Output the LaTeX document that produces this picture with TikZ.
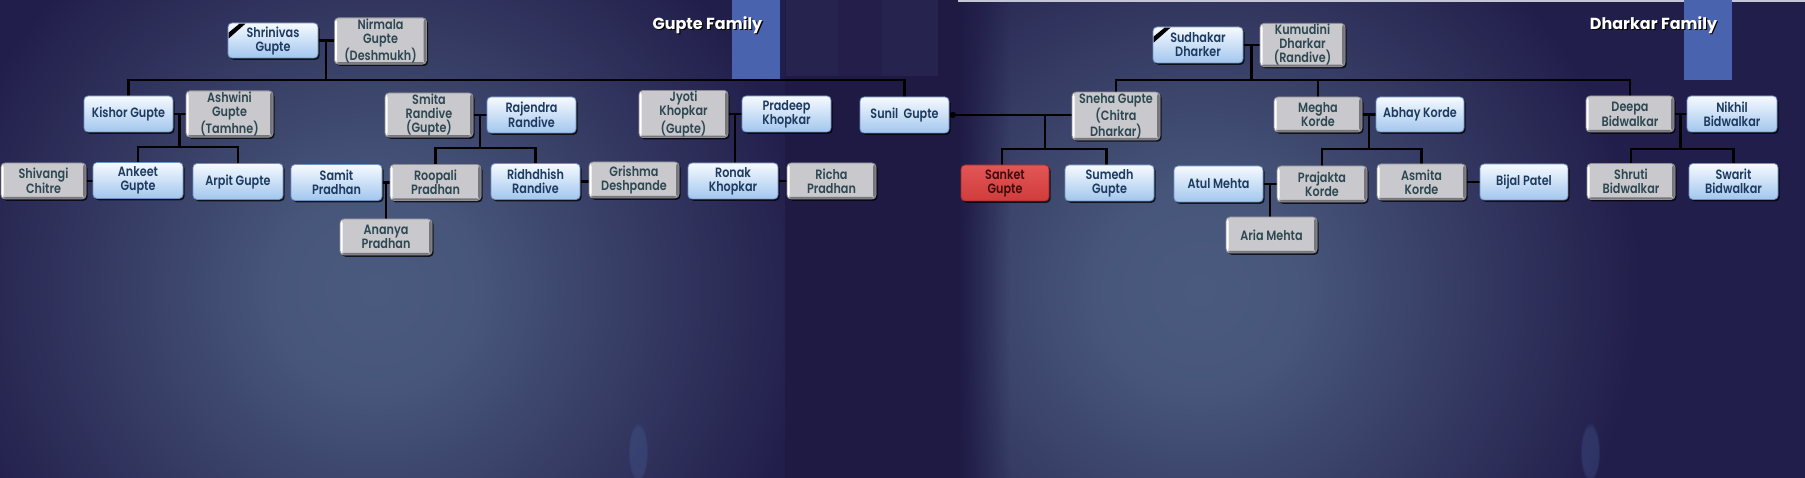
\documentclass[tikz,border=0pt]{standalone}
\usepackage{fontspec}
\newfontfamily\boxfont{Poppins SemiBold}[FakeStretch=0.83]
\newfontfamily\titlefont{Poppins Bold}
\usetikzlibrary{shadows,fadings,arrows.meta,calc}
\definecolor{basec}{HTML}{221E4B}
\definecolor{glowc}{HTML}{4A5A7E}
\definecolor{gapc}{HTML}{1E1A44}
\definecolor{bandc}{HTML}{26234E}
\definecolor{bandd}{HTML}{231F4A}
\definecolor{titleblue}{HTML}{4A63AE}
\definecolor{topline}{HTML}{C5C6D6}
\definecolor{bokehc}{HTML}{4A64A0}
\definecolor{bluetop}{HTML}{F6FAFF}
\definecolor{bluebot}{HTML}{A2C6EE}
\definecolor{blueedge}{HTML}{7090C0}
\definecolor{bluetext}{HTML}{1D3A5F}
\definecolor{greyfill}{HTML}{C9C9CD}
\definecolor{greyedge}{HTML}{8E8E94}
\definecolor{greydark}{HTML}{76767C}
\definecolor{greytext}{HTML}{2E4852}
\definecolor{redtop}{HTML}{E35656}
\definecolor{redbot}{HTML}{D03C3C}
\definecolor{rededge}{HTML}{A02828}
\definecolor{redtext}{HTML}{3D0D0D}
\pgfdeclareradialshading{glow}{\pgfpoint{0bp}{0bp}}{color(0bp)=(glowc); color(6bp)=(glowc!92!basec); color(25bp)=(basec); color(50bp)=(basec)}
\tikzfading[name=fadeR, left color=transparent!0, right color=transparent!100]
\pgfdeclarelayer{back}
\pgfdeclarelayer{lines}
\pgfsetlayers{back,lines,main}
\tikzset{
  box/.style={minimum width=89pt, minimum height=36pt, inner sep=1pt,
    rounded corners=4pt, align=center,
    font=\boxfont\fontsize{13.5}{14}\selectfont,
    drop shadow={shadow xshift=1.6pt, shadow yshift=-1.8pt, opacity=0.75, fill=black}},
  bluebox/.style={box, top color=bluetop, bottom color=bluebot, draw=blueedge, line width=0.8pt, text=bluetext},
  greybox/.style={box, fill=greyfill, draw=greyedge, line width=0.8pt, text=greytext,
    path picture={
      \fill[white] (path picture bounding box.north west) rectangle ([xshift=2.5pt]path picture bounding box.south west);
      \fill[greydark] ([xshift=-3pt]path picture bounding box.north east) rectangle (path picture bounding box.south east);
      \fill[greydark] ([yshift=2pt]path picture bounding box.south west) rectangle (path picture bounding box.south east);
    }},
  redbox/.style={box, top color=redtop, bottom color=redbot, draw=rededge, line width=0.8pt, text=redtext},
  conn/.style={draw=black, line width=2.4pt},
  titletext/.style={font=\titlefont\fontsize{16}{18}\selectfont, anchor=base, inner sep=0pt},
  ribbon/.style={fill=black}
}
\begin{document}
\begin{tikzpicture}[x=1pt,y=-1pt]
\useasboundingbox (0,0) rectangle (1805,478);
\begin{pgfonlayer}{back}
  \fill[gapc] (0,0) rectangle (1805,478);
  % left slide
  \begin{scope}
    \clip (0,0) rectangle (785,478);
    \fill[basec] (0,0) rectangle (785,478);
    \shade[shading=glow] (375,290) ellipse (440 and 430);
    \fill[bokehc, opacity=0.3, path fading=circle with fuzzy edge 20 percent] (638,452) ellipse (10 and 30);
  \end{scope}
  % gap bands
  \fill[bandc] (786,0) rectangle (838,76);
  \fill[bandd] (838,0) rectangle (882,76);
  \fill[bandc] (882,0) rectangle (938,76);
  % right slide
  \begin{scope}
    \clip (958,0) rectangle (1805,478);
    \fill[basec] (958,0) rectangle (1805,478);
    \shade[shading=glow] (1200,290) ellipse (440 and 430);
    \fill[gapc, path fading=fadeR] (958,0) rectangle (1010,478);
    \fill[bokehc, opacity=0.3, path fading=circle with fuzzy edge 20 percent] (1590,452) ellipse (10 and 30);
  \end{scope}
  \fill[topline] (958,0) rectangle (1805,2);
  \fill[titleblue] (732,0) rectangle (780,79);
  \fill[titleblue] (1684,0) rectangle (1732,80);
\end{pgfonlayer}

% titles
\node[titletext, text=black] (gtitleshadow) at (708.7,30.7) {Gupte Family};
\node[titletext, text=white] (gtitle) at (707.5,29.5) {Gupte Family};
\node[titletext, text=black] (dtitleshadow) at (1654.7,30.7) {Dharkar Family};
\node[titletext, text=white] (dtitle) at (1653.5,29.5) {Dharkar Family};

% ---------- Gupte family ----------
\node[bluebox, minimum width=90pt, minimum height=35pt] (shrinivas) at (273,40.5) {Shrinivas\\Gupte};
\node[greybox, minimum width=92pt, minimum height=37pt] (nirmala) at (380.5,41) {Nirmala\\Gupte\\(Deshmukh)};
\node[bluebox] (kishor) at (128.5,114) {Kishor Gupte};
\node[greybox, minimum width=87pt] (ashwini) at (229.5,114) {Ashwini\\Gupte\\(Tamhne)};
\node[greybox, minimum width=85pt] (shivangi) at (43.5,181) {Shivangi\\Chitre};
\node[bluebox, minimum width=90pt] (ankeet) at (138,180.5) {Ankeet\\Gupte};
\node[bluebox, minimum width=90pt] (arpit) at (238,181.5) {Arpit Gupte};
\node[bluebox, minimum width=91pt] (samit) at (336.5,182.5) {Samit\\Pradhan};
\node[greybox, minimum width=91pt] (roopali) at (435.5,182.5) {Roopali\\Pradhan};
\node[greybox, minimum width=92pt] (ananya) at (386,237) {Ananya\\Pradhan};
\node[greybox, minimum width=88pt] (smita) at (429,115) {Smita\\Randive\\(Gupte)};
\node[bluebox] (rajendra) at (531.5,115) {Rajendra\\Randive};
\node[bluebox] (ridhdhish) at (535.5,181.5) {Ridhdhish\\Randive};
\node[greybox, minimum width=90pt] (grishma) at (634,180) {Grishma\\Deshpande};
\node[greybox] (jyoti) at (683.5,114) {Jyoti\\Khopkar\\(Gupte)};
\node[bluebox] (pradeep) at (786.5,114) {Pradeep\\Khopkar};
\node[bluebox, minimum width=90pt] (ronak) at (733,181) {Ronak\\Khopkar};
\node[greybox] (richa) at (831.5,181) {Richa\\Pradhan};
\node[bluebox] (sunil) at (904.5,115) {Sunil~ Gupte};

% ---------- Dharkar family ----------
\node[greybox, minimum width=88pt] (sneha) at (1116,116) {Sneha Gupte\\(Chitra\\Dharkar)};
\node[redbox, minimum width=88pt] (sanket) at (1005,183) {Sanket\\Gupte};
\node[bluebox] (sumedh) at (1109.5,183) {Sumedh\\Gupte};
\node[bluebox, minimum width=90pt] (sudhakar) at (1198,45) {Sudhakar\\Dharker};
\node[greybox, minimum width=85pt] (kumudini) at (1302.5,45) {Kumudini\\Dharkar\\(Randive)};
\node[greybox, minimum width=88pt, minimum height=35pt] (megha) at (1318,114.5) {Megha\\Korde};
\node[bluebox, minimum width=88pt, minimum height=35pt] (abhay) at (1420,114.5) {Abhay Korde};
\node[bluebox] (atul) at (1218.5,184) {Atul Mehta};
\node[greybox, minimum width=90pt] (prajakta) at (1322,184) {Prajakta\\Korde};
\node[greybox, minimum width=91pt] (aria) at (1271.5,235) {Aria Mehta};
\node[greybox] (asmita) at (1421.5,182) {Asmita\\Korde};
\node[bluebox, minimum width=88pt] (bijal) at (1524,182) {Bijal Patel};
\node[greybox, minimum width=88pt] (deepa) at (1630,114) {Deepa\\Bidwalkar};
\node[bluebox, minimum width=90pt] (nikhil) at (1732,114) {Nikhil\\Bidwalkar};
\node[greybox, minimum width=88pt] (shruti) at (1631,181.5) {Shruti\\Bidwalkar};
\node[bluebox] (swarit) at (1733.5,181.5) {Swarit\\Bidwalkar};

% mourning ribbons
\fill[ribbon] ([shift={(1pt,-10pt)}]shrinivas.north west) -- ([shift={(12pt,-1pt)}]shrinivas.north west) -- ([shift={(18pt,-1pt)}]shrinivas.north west) -- ([shift={(1pt,-16pt)}]shrinivas.north west) -- cycle;
\fill[ribbon] ([shift={(1pt,-10pt)}]sudhakar.north west) -- ([shift={(12pt,-1pt)}]sudhakar.north west) -- ([shift={(18pt,-1pt)}]sudhakar.north west) -- ([shift={(1pt,-16pt)}]sudhakar.north west) -- cycle;

% ---------- connectors ----------
\begin{pgfonlayer}{lines}
  \coordinate (gbar) at (0,80);
  \coordinate (kbar) at (0,147);
  \coordinate (rbar) at (0,148);
  \coordinate (sbar) at (0,149);
  \coordinate (dbar) at (0,80);
  \coordinate (mbar) at (0,149);
  \coordinate (nbar) at (0,149);
  % Shrinivas + Nirmala
  \draw[conn] (shrinivas.east) -- (shrinivas.east -| nirmala.west);
  \coordinate (gc) at ($(shrinivas.east)!0.5!(shrinivas.east -| nirmala.west)$);
  \draw[conn] (gc) -- (gc |- gbar);
  \draw[conn] (kishor.north) |- (sunil.north |- gbar) -- (sunil.north);
  % Kishor + Ashwini
  \draw[conn] (kishor.east) -- (kishor.east -| ashwini.west);
  \coordinate (kc) at ($(kishor.east)!0.5!(kishor.east -| ashwini.west)$);
  \draw[conn] (kc) -- (kc |- kbar);
  \draw[conn] (ankeet.north) |- (arpit.north |- kbar) -- (arpit.north);
  \draw[conn] (shivangi.east) -- (shivangi.east -| ankeet.west);
  % Smita + Rajendra
  \draw[conn] (smita.east) -- (smita.east -| rajendra.west);
  \coordinate (rc) at ($(smita.east)!0.5!(smita.east -| rajendra.west)$);
  \draw[conn] (rc) -- (rc |- rbar);
  \draw[conn] (roopali.north) |- (ridhdhish.north |- rbar) -- (ridhdhish.north);
  % Samit + Roopali
  \draw[conn] (samit.east) -- (samit.east -| roopali.west);
  \coordinate (pc) at ($(samit.east)!0.5!(samit.east -| roopali.west)$);
  \draw[conn] (pc) -- (pc |- ananya.north);
  \draw[conn] (ridhdhish.east) -- (ridhdhish.east -| grishma.west);
  % Jyoti + Pradeep
  \draw[conn] (jyoti.east) -- (jyoti.east -| pradeep.west);
  \coordinate (jc) at ($(jyoti.east)!0.5!(jyoti.east -| pradeep.west)$);
  \draw[conn] (jc) -- (jc |- ronak.north);
  \draw[conn] (ronak.east) -- (ronak.east -| richa.west);
  % Sunil + Sneha
  \draw[conn, {Circle[length=6.5pt,width=6pt]}-] (sunil.east) -- (sunil.east -| sneha.west);
  \coordinate (sc) at (1045,115);
  \draw[conn] (sc) -- (sc |- sbar);
  \draw[conn] ([xshift=-3pt]sanket.north) |- ([xshift=-3pt]sumedh.north |- sbar) -- ([xshift=-3pt]sumedh.north);
  % Sudhakar + Kumudini
  \draw[conn] (sudhakar.east) -- (sudhakar.east -| kumudini.west);
  \coordinate (dc) at ($(sudhakar.east)!0.5!(sudhakar.east -| kumudini.west)$);
  \draw[conn] (dc) -- (dc |- dbar);
  \draw[conn] (sneha.north) |- (deepa.north |- dbar) -- (deepa.north);
  \draw[conn] (megha.north) -- (megha.north |- dbar);
  % Megha + Abhay
  \draw[conn] (megha.east) -- (megha.east -| abhay.west);
  \coordinate (mc) at ($(megha.east)!0.5!(megha.east -| abhay.west)$);
  \draw[conn] (mc) -- (mc |- mbar);
  \draw[conn] (prajakta.north) |- (asmita.north |- mbar) -- (asmita.north);
  % Atul + Prajakta
  \draw[conn] (atul.east) -- (atul.east -| prajakta.west);
  \coordinate (ac) at ($(atul.east)!0.5!(atul.east -| prajakta.west)$);
  \draw[conn] (ac) -- (ac |- aria.north);
  \draw[conn] (asmita.east) -- (asmita.east -| bijal.west);
  % Deepa + Nikhil
  \draw[conn] (deepa.east) -- (deepa.east -| nikhil.west);
  \coordinate (nc) at ($(deepa.east)!0.5!(deepa.east -| nikhil.west)$);
  \draw[conn] (nc) -- (nc |- nbar);
  \draw[conn] (shruti.north) |- (swarit.north |- nbar) -- (swarit.north);
\end{pgfonlayer}
\end{tikzpicture}
\end{document}
